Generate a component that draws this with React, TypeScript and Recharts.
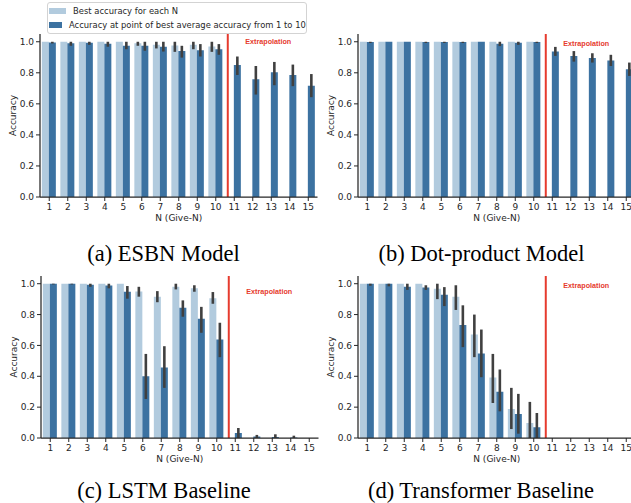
import { Bar, BarChart, ErrorBar, Legend, ReferenceLine, XAxis, YAxis } from "recharts";

// x categories and y ticks
const N_VALUES = [1, 2, 3, 4, 5, 6, 7, 8, 9, 10, 11, 12, 13, 14, 15];
const Y_TICKS = [0, 0.2, 0.4, 0.6, 0.8, 1.0];
const EXTRAPOLATION_AT = 10.65;

const BEST_LABEL = "Best accuracy for each N";
const ACC_LABEL = "Accuracy at point of best average accuracy from 1 to 10";
const LEGEND_ORDER = [BEST_LABEL, ACC_LABEL];

// (a) ESBN
const esbnBest = [1.0, 1.0, 1.0, 1.0, 1.0, 0.99, 0.98, 0.976, 0.98, 0.97, null, null, null, null, null];
const esbnBestLo = [null, null, null, null, null, 0.974, 0.957, 0.935, 0.952, 0.935, null, null, null, null, null];
const esbnBestHi = [null, null, null, null, null, 1.0, 1.0, 1.0, 1.0, 1.0, null, null, null, null, null];
const esbnAcc = [0.996, 0.99, 0.993, 0.987, 0.974, 0.974, 0.968, 0.94, 0.946, 0.952, 0.85, 0.758, 0.803, 0.786, 0.716];
const esbnAccLo = [0.989, 0.974, 0.98, 0.968, 0.952, 0.942, 0.937, 0.898, 0.905, 0.916, 0.786, 0.66, 0.72, 0.714, 0.643];
const esbnAccHi = [1.0, 1.0, 1.0, 1.0, 1.0, 1.0, 1.0, 0.974, 0.985, 0.985, 0.905, 0.844, 0.87, 0.853, 0.792];

// (b) Dot-product
const dotBest = [1.0, 1.0, 1.0, 1.0, 1.0, 1.0, 1.0, 1.0, 1.0, 1.0, null, null, null, null, null];
const dotBestLo = [null, null, null, null, null, null, null, null, null, null, null, null, null, null, null];
const dotBestHi = [null, null, null, null, null, null, null, null, null, null, null, null, null, null, null];
const dotAcc = [0.998, 1.0, 1.0, 0.998, 0.998, 0.998, 1.0, 0.987, 0.993, 0.998, 0.937, 0.909, 0.896, 0.879, 0.823];
const dotAccLo = [0.992, null, null, 0.992, 0.992, 0.992, null, 0.972, 0.98, 0.992, 0.909, 0.872, 0.866, 0.844, 0.78];
const dotAccHi = [1.0, null, null, 1.0, 1.0, 1.0, null, 1.0, 1.0, 1.0, 0.967, 0.94, 0.926, 0.916, 0.866];

// (c) LSTM
const lstmBest = [1.0, 1.0, 1.0, 1.0, 1.0, 0.95, 0.916, 0.98, 0.97, 0.905, null, null, null, null, null];
const lstmBestLo = [null, null, null, null, null, 0.916, 0.88, 0.963, 0.948, 0.87, null, null, null, null, null];
const lstmBestHi = [null, null, null, null, null, 0.98, 0.952, 1.0, 0.99, 0.946, null, null, null, null, null];
const lstmAcc = [1.0, 1.0, 0.993, 0.989, 0.948, 0.4, 0.457, 0.844, 0.773, 0.638, 0.032, 0.009, 0.007, 0.003, 0];
const lstmAccLo = [0.995, 0.995, 0.98, 0.97, 0.903, 0.253, 0.325, 0.786, 0.682, 0.524, 0.0, 0.0, 0.0, 0.0, null];
const lstmAccHi = [1.0, 1.0, 1.0, 1.0, 0.985, 0.545, 0.595, 0.892, 0.85, 0.747, 0.065, 0.02, 0.024, 0.015, null];

// (d) Transformer
const trBest = [1.0, 1.0, 1.0, 1.0, 0.967, 0.916, 0.671, 0.392, 0.188, 0.097, null, null, null, null, null];
const trBestLo = [null, null, null, null, 0.9, 0.83, 0.524, 0.227, 0.058, 0.0, null, null, null, null, null];
const trBestHi = [null, null, null, null, 1.0, 0.99, 0.8, 0.545, 0.325, 0.234, null, null, null, null, null];
const trAcc = [1.0, 1.0, 0.98, 0.976, 0.929, 0.732, 0.548, 0.299, 0.156, 0.069, 0, 0, 0, 0, 0];
const trAccLo = [0.987, 0.983, 0.96, 0.96, 0.855, 0.589, 0.394, 0.173, 0.028, 0.0, null, null, null, null, null];
const trAccHi = [1.0, 1.0, 1.0, 0.99, 0.978, 0.86, 0.703, 0.444, 0.286, 0.162, null, null, null, null, null];

const LIGHT = "#b2cbde";
const DARK = "#3c72a1";
const ERR = "#404040";
const RED = "#e63b2e";
const INK = "#262626";
const FONT = "DejaVu Sans";

type Series = (number | null)[];

function errOf(v: number | null, lo: number | null, hi: number | null) {
  if (v == null || lo == null || hi == null) return null;
  return [v - lo, hi - v];
}

function buildRows(best: Series, bestLo: Series, bestHi: Series, acc: Series, accLo: Series, accHi: Series) {
  return N_VALUES.map((n, i) => ({
    n,
    best: best[i],
    bestErr: errOf(best[i], bestLo[i], bestHi[i]),
    acc: acc[i],
    accErr: errOf(acc[i], accLo[i], accHi[i]),
  }));
}

const panels = [
  {
    id: "a",
    caption: "(a) ESBN Model",
    rows: buildRows(esbnBest, esbnBestLo, esbnBestHi, esbnAcc, esbnAccLo, esbnAccHi),
    left: -0.5, top: 0, height: 224, plotH: 163, labelDy: 9.6,
    capX: 163.5, capTop: 241.5, legend: true,
  },
  {
    id: "b",
    caption: "(b) Dot-product Model",
    rows: buildRows(dotBest, dotBestLo, dotBestHi, dotAcc, dotAccLo, dotAccHi),
    left: 317.5, top: 0, height: 224, plotH: 163, labelDy: 12,
    capX: 481.5, capTop: 241.5, legend: false,
  },
  {
    id: "c",
    caption: "(c) LSTM Baseline",
    rows: buildRows(lstmBest, lstmBestLo, lstmBestHi, lstmAcc, lstmAccLo, lstmAccHi),
    left: 1.4, top: 242.3, height: 223, plotH: 162, labelDy: 17.7,
    capX: 164, capTop: 478.5, legend: false,
  },
  {
    id: "d",
    caption: "(d) Transformer Baseline",
    rows: buildRows(trBest, trBestLo, trBestHi, trAcc, trAccLo, trAccHi),
    left: 317.5, top: 242.3, height: 223, plotH: 162, labelDy: 11.7,
    capX: 481, capTop: 478.5, legend: false,
  },
];

function LegendBox(props: any) {
  const items = [...(props.payload || [])].sort(
    (a: any, b: any) => LEGEND_ORDER.indexOf(a.value) - LEGEND_ORDER.indexOf(b.value)
  );
  return (
    <div
      style={{
        border: "1px solid #d3d3d3",
        borderRadius: 3,
        background: "#fff",
        padding: "1px 0 1px 0",
        fontFamily: FONT,
        fontSize: 8.4,
        color: INK,
      }}
    >
      {items.map((it: any) => (
        <div key={it.value} style={{ display: "flex", alignItems: "center", height: 14, whiteSpace: "nowrap" }}>
          <span style={{ display: "inline-block", width: 17, height: 6, marginLeft: 1.7, marginRight: 6.6, background: it.color }} />
          <span>{it.value}</span>
        </div>
      ))}
    </div>
  );
}

function yLabel(props: any) {
  const vb = props.viewBox || {};
  const cx = vb.x + 13;
  const cy = vb.y + vb.height / 2;
  return (
    <text
      x={cx}
      y={cy}
      transform={`rotate(-90, ${cx}, ${cy})`}
      textAnchor="middle"
      dominantBaseline="central"
      fontSize={9}
      fontFamily={FONT}
      fill={INK}
    >
      Accuracy
    </text>
  );
}

function AccuracyPanel({ p }: { p: (typeof panels)[number] }) {
  const axisLine = { stroke: INK, strokeWidth: 1.25 };
  const tickLine = { stroke: INK, strokeWidth: 1 };
  const tick = { fill: INK, fontSize: 9, fontFamily: FONT };
  return (
    <>
      <div style={{ position: "absolute", left: p.left, top: p.top }}>
        <BarChart
          width={319.5}
          height={p.height}
          data={p.rows}
          margin={{ top: 34, right: 2, bottom: 0, left: 0 }}
          barCategoryGap="10%"
          barGap={0}
        >
          <XAxis
            dataKey="n"
            type="number"
            domain={[0.5, 15.5]}
            ticks={N_VALUES}
            interval={0}
            allowDataOverflow
            height={p.height - 34 - p.plotH}
            axisLine={axisLine}
            tickLine={tickLine}
            tickSize={4}
            tickMargin={3}
            tick={tick}
            label={{ value: "N (Give-N)", position: "insideTop", offset: 17.5, fill: INK, fontSize: 9, fontFamily: FONT }}
          />
          <XAxis
            xAxisId="top"
            orientation="top"
            dataKey="n"
            type="number"
            domain={[0.5, 15.5]}
            allowDataOverflow
            height={0}
            axisLine={axisLine}
            tick={false}
            tickLine={false}
          />
          <YAxis
            domain={[0, 1.05]}
            ticks={Y_TICKS}
            allowDataOverflow
            width={40}
            axisLine={axisLine}
            tickLine={tickLine}
            tickSize={4}
            tickMargin={2}
            tick={tick}
            tickFormatter={(v: number) => v.toFixed(1)}
            label={yLabel}
          />
          <YAxis
            yAxisId="right"
            orientation="right"
            domain={[0, 1.05]}
            allowDataOverflow
            width={0}
            axisLine={axisLine}
            tick={false}
            tickLine={false}
          />
          {p.legend && (
            <Legend
              layout="horizontal"
              verticalAlign="middle"
              align="center"
              wrapperStyle={{ left: 47.3, top: 1.7, width: 260 }}
              content={LegendBox}
            />
          )}
          <Bar dataKey="best" name={BEST_LABEL} fill={LIGHT} isAnimationActive={false}>
            <ErrorBar dataKey="bestErr" direction="y" width={0} stroke={ERR} strokeWidth={2.6} />
          </Bar>
          <Bar dataKey="acc" name={ACC_LABEL} fill={DARK} isAnimationActive={false}>
            <ErrorBar dataKey="accErr" direction="y" width={0} stroke={ERR} strokeWidth={2.6} />
          </Bar>
          <ReferenceLine
            x={EXTRAPOLATION_AT}
            stroke={RED}
            strokeWidth={2}
            label={(lp: any) => {
              const vb = lp.viewBox || {};
              return (
                <text
                  x={vb.x + 40.5}
                  y={vb.y + p.labelDy}
                  textAnchor="middle"
                  fill={RED}
                  fontSize={7.2}
                  fontWeight="bold"
                  fontFamily="Liberation Sans"
                >
                  Extrapolation
                </text>
              );
            }}
          />
        </BarChart>
      </div>
      <div
        style={{
          position: "absolute",
          left: p.capX - 160,
          top: p.capTop,
          width: 320,
          textAlign: "center",
          fontFamily: "Liberation Serif",
          fontSize: 22.5,
          lineHeight: "23px",
          color: "#000",
          whiteSpace: "nowrap",
        }}
      >
        {p.caption}
      </div>
    </>
  );
}

export default function App() {
  return (
    <div
      style={{
        position: "fixed",
        left: 0,
        top: 0,
        width: 631,
        height: 503,
        overflow: "hidden",
        background: "#fff",
      }}
    >
      {panels.map((p) => (
        <AccuracyPanel key={p.id} p={p} />
      ))}
    </div>
  );
}
